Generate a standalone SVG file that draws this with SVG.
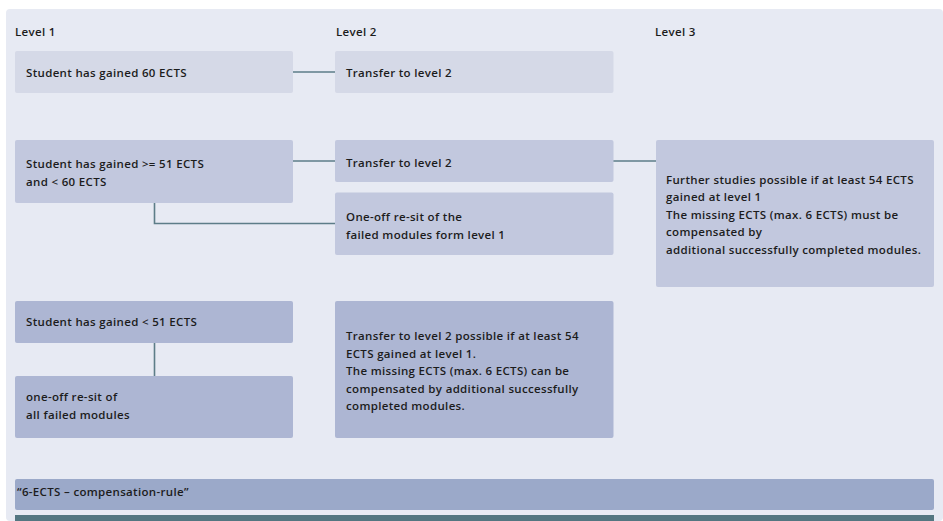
<svg xmlns="http://www.w3.org/2000/svg" width="943" height="521" viewBox="0 0 943 521">
<style>
text{font-family:"Open Sans","Noto Sans","Liberation Sans",sans-serif;font-weight:600;font-size:11.5px;letter-spacing:0.33px;fill:#1c1c1c}
.r1{fill:#d5d9e7}
.r2{fill:#c2c8de}
.r3{fill:#adb6d3}
.ln{stroke:#5d7d88;stroke-width:1.6;fill:none}
</style>
<rect x="6" y="9" width="937" height="512" rx="4" fill="#e7eaf3"/>
<g id="headers">
<text x="15" y="36">Level 1</text>
<text x="336" y="36">Level 2</text>
<text x="655" y="36">Level 3</text>
</g>
<g id="connectors">
<path class="ln" d="M293 72H335"/>
<path class="ln" d="M293 161H335"/>
<path class="ln" d="M613 161H656"/>
<path class="ln" d="M154.5 203V223.5H336"/>
<path class="ln" d="M154.5 343V376"/>
</g>
<g id="n1"><rect class="r1" x="15" y="51" width="278" height="42" rx="2"/><text x="26" y="77">Student has gained 60 ECTS</text></g>
<g id="n2"><rect class="r1" x="335" y="51" width="278.5" height="42" rx="2"/><text x="346" y="77">Transfer to level 2</text></g>
<g id="n3"><rect class="r2" x="15" y="140" width="278" height="63" rx="2"/><text x="26" y="168">Student has gained &gt;= 51 ECTS</text><text x="26" y="185.5">and &lt; 60 ECTS</text></g>
<g id="n4"><rect class="r2" x="335" y="140" width="278.5" height="42" rx="2"/><text x="346" y="167">Transfer to level 2</text></g>
<g id="n5"><rect class="r2" x="335" y="192.5" width="278.5" height="62.5" rx="2"/><text x="346" y="221">One-off re-sit of the</text><text x="346" y="238.5">failed modules form level 1</text></g>
<g id="n6"><rect class="r2" x="656" y="140" width="278" height="147" rx="2"/>
<text x="666" y="183.5">Further studies possible if at least 54 ECTS</text>
<text x="666" y="201">gained at level 1</text>
<text x="666" y="218.5">The missing ECTS (max. 6 ECTS) must be</text>
<text x="666" y="236">compensated by</text>
<text x="666" y="253.5">additional successfully completed modules.</text></g>
<g id="n7"><rect class="r3" x="15" y="301" width="278" height="42" rx="2"/><text x="26" y="326">Student has gained &lt; 51 ECTS</text></g>
<g id="n8"><rect class="r3" x="15" y="376" width="278" height="62" rx="2"/><text x="26" y="401">one-off re-sit of</text><text x="26" y="418.5">all failed modules</text></g>
<g id="n9"><rect class="r3" x="335" y="301" width="278.5" height="137" rx="2"/>
<text x="346" y="340">Transfer to level 2 possible if at least 54</text>
<text x="346" y="357.5">ECTS gained at level 1.</text>
<text x="346" y="375">The missing ECTS (max. 6 ECTS) can be</text>
<text x="346" y="392.5">compensated by additional successfully</text>
<text x="346" y="410">completed modules.</text></g>
<g id="bar"><rect x="15" y="479" width="919" height="31" rx="2" fill="#9ba9c9"/><text x="17" y="496">“6-ECTS – compensation-rule”</text></g>
<rect x="15" y="515" width="919" height="6" fill="#537681"/>
</svg>
